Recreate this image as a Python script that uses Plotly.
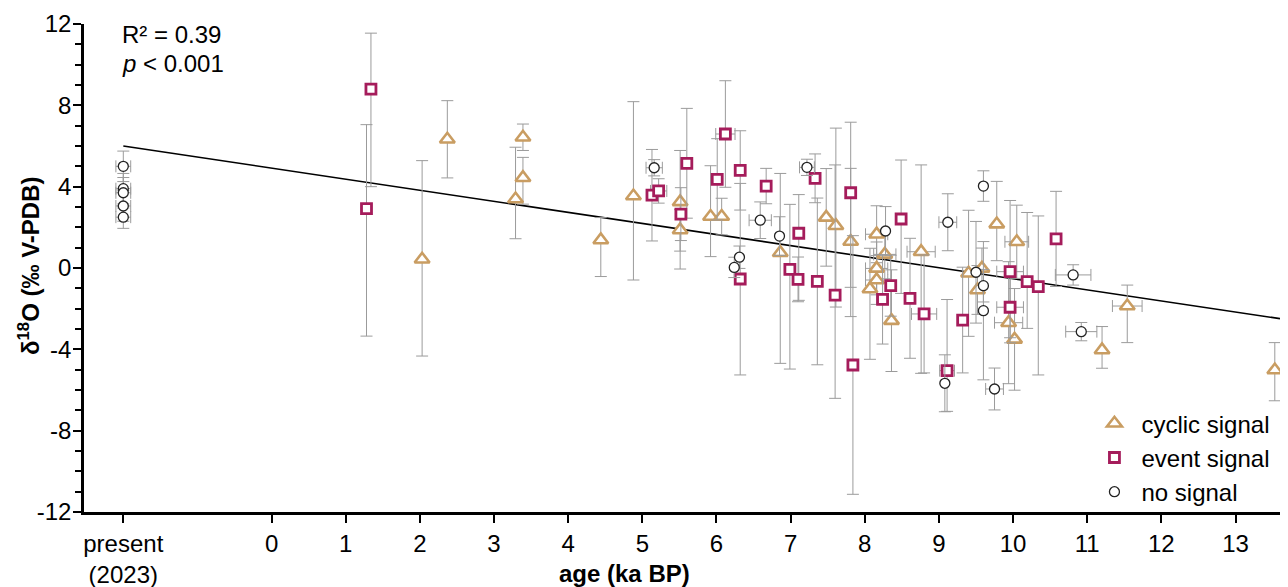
import plotly.graph_objects as go

# ---------------- data ----------------
PRESENT_X = -2  # axis position of the "present (2023)" samples

# cyclic signal (triangles)
cyc_age = [2.03, 2.37, 3.29, 3.39, 3.39, 4.44, 4.88, 5.51, 5.51, 5.92, 6.07, 6.86, 7.48, 7.61, 7.81,
           8.16, 8.27, 8.16, 8.16, 8.07, 8.36, 8.76, 9.40, 9.58, 9.52, 9.78, 10.05, 9.94, 10.02,
           11.20, 11.54, 13.53]
cyc_d18o = [0.43, 6.33, 3.39, 6.43, 4.44, 1.38, 3.54, 3.25, 1.87, 2.53, 2.53, 0.75, 2.49, 2.08, 1.30,
            1.66, 0.67, -0.02, -0.59, -1.03, -2.59, 0.80, -0.26, -0.02, -1.08, 2.16, 1.29, -2.69, -3.51,
            -4.03, -1.87, -5.02]
cyc_err_p = [4.85, 1.9, 2.55, 0.65, 1.0, 1.1, 4.64, 2.53, 1.0, 2.5, 0.9, 3.9, 2.4, 4.8, 3.6,
             1.4, 1.2, 1.3, 1.2, 2.0, 2.5, 4.27, 3.1, 1.0, 1.2, 2.1, 1.8, 3.0, 2.5,
             1.15, 1.03, 1.35]
cyc_err_m = [4.76, 1.9, 1.95, 0.65, 1.3, 1.8, 4.13, 2.42, 1.92, 1.97, 0.9, 5.44, 2.4, 4.0, 3.69,
             1.4, 1.2, 1.3, 1.2, 3.46, 2.5, 5.98, 3.1, 1.0, 1.2, 1.8, 1.8, 3.0, 2.5,
             0.9, 1.8, 1.51]
cyc_age_err = [0, 0, 0, 0, 0, 0, 0, 0, 0, 0, 0, 0, 0, 0, 0,
               0.15, 0.15, 0.15, 0.15, 0, 0, 0.19, 0, 0, 0, 0, 0.16, 0.19, 0,
               0, 0.2, 0]

# event signal (squares)
evt_age = [1.28, 1.34, 5.13, 5.22, 5.52, 5.60, 6.01, 6.12, 6.32, 6.32, 6.67, 6.99, 7.10, 7.11, 7.33,
           7.36, 7.60, 7.81, 7.84, 8.24, 8.35, 8.49, 8.61, 8.80, 9.11, 9.32, 9.96, 9.96, 10.19,
           10.34, 10.58]
evt_d18o = [2.92, 8.80, 3.58, 3.79, 2.65, 5.15, 4.36, 6.59, 4.80, -0.54, 4.03, -0.07, -0.56, 1.71, 4.41,
            -0.66, -1.33, 3.70, -4.77, -1.54, -0.87, 2.41, -1.49, -2.26, -5.05, -2.56, -0.18, -1.93, -0.67,
            -0.92, 1.43]
evt_err_p = [4.13, 2.75, 2.25, 0.6, 1.3, 2.7, 2.0, 2.62, 1.95, 4.7, 0.87, 3.2, 1.1, 1.9, 1.2,
             4.1, 6.4, 3.47, 6.36, 2.2, 1.5, 2.9, 2.95, 2.9, 3.5, 2.6, 3.5, 1.5, 3.4,
             3.48, 2.34]
evt_err_m = [6.27, 4.8, 2.25, 0.6, 1.3, 2.7, 2.0, 2.62, 1.95, 4.72, 0.87, 4.9, 1.1, 3.3, 1.2,
             4.1, 5.08, 4.65, 6.36, 2.2, 1.5, 3.66, 2.95, 2.9, 2.0, 2.6, 3.5, 1.5, 2.3,
             4.34, 2.34]
evt_age_err = [0, 0, 0, 0.11, 0, 0, 0, 0.13, 0, 0, 0, 0, 0, 0, 0,
               0, 0, 0, 0, 0, 0, 0, 0, 0.17, 0.1, 0, 0.18, 0.18, 0,
               0, 0]

# no signal (circles)
non_age = [PRESENT_X, PRESENT_X, PRESENT_X, PRESENT_X, PRESENT_X, 5.16, 6.24, 6.31, 6.59, 6.85, 7.22,
           8.28, 9.08, 9.12, 9.50, 9.60, 9.60, 9.60, 9.75, 10.81, 10.92]
non_d18o = [5.00, 3.90, 3.70, 3.05, 2.50, 4.93, 0.03, 0.53, 2.35, 1.57, 4.95,
            1.82, -5.67, 2.25, -0.21, 4.03, -0.87, -2.10, -5.95, -0.34, -3.13]
non_err = [0.75, 0.75, 0.75, 0.75, 0.55, 0.4, 0.5, 0.55, 0.9, 0.95, 0.4,
           1.2, 1.4, 1.4, 2.5, 0.75, 0.8, 3.4, 1.03, 0.5, 0.45]
non_age_err = [0.1, 0.1, 0.1, 0.1, 0.1, 0.11, 0, 0, 0.15, 0, 0.1,
               0, 0, 0.12, 0, 0, 0, 0, 0.12, 0.24, 0.21]

# regression line (R² = 0.39)
fit_x = [PRESENT_X, 13.6]
fit_y = [6.0, -2.49]

x_tickvals = [PRESENT_X, 0, 1, 2, 3, 4, 5, 6, 7, 8, 9, 10, 11, 12, 13]
x_ticktext = ["present<br>(2023)", "0", "1", "2", "3", "4", "5", "6", "7", "8", "9", "10", "11", "12", "13"]
y_tickvals = [-12, -8, -4, 0, 4, 8, 12]
y_ticktext = ["-12", "-8", "-4", "0", "4", "8", "12"]

# ---------------- styling ----------------
FONT = "Liberation Sans, Arial, sans-serif"
C_CYC = "#C99D62"
C_EVT = "#A51C5B"
C_NON = "#222222"
C_ERR = "#9B9B9B"

fig = go.Figure()

fig.add_trace(go.Scatter(x=fit_x, y=fit_y, mode="lines", line=dict(color="black", width=1.6),
                         showlegend=False, hoverinfo="skip"))


def add_group(ages, vals, ep, em, aerr, name, symbol, color, size, lw):
    # horizontal (age) error bars only where present
    hx = [a for a, e in zip(ages, aerr) if e > 0]
    hy = [v for v, e in zip(vals, aerr) if e > 0]
    he = [e for e in aerr if e > 0]
    if hx:
        fig.add_trace(go.Scatter(x=hx, y=hy, mode="markers",
                                 marker=dict(size=1, color="rgba(0,0,0,0)"),
                                 error_x=dict(type="data", array=he, color=C_ERR, thickness=1, width=6),
                                 showlegend=False, hoverinfo="skip", cliponaxis=False))
    fig.add_trace(go.Scatter(
        x=ages, y=vals, mode="markers", name=name,
        marker=dict(symbol=symbol, size=size, color="white", line=dict(color=color, width=lw)),
        error_y=dict(type="data", symmetric=False, array=ep, arrayminus=em,
                     color=C_ERR, thickness=1, width=6),
        cliponaxis=False))


add_group(cyc_age, cyc_d18o, cyc_err_p, cyc_err_m, cyc_age_err, "cyclic signal", "triangle-up", C_CYC, 13, 2.6)
add_group(evt_age, evt_d18o, evt_err_p, evt_err_m, evt_age_err, "event signal", "square", C_EVT, 10, 2.8)
add_group(non_age, non_d18o, non_err, non_err, non_age_err, "no signal", "circle", C_NON, 10, 1.3)

# the page body adds an 8 px offset, so the figure is 8 px smaller and margins shifted
fig.update_layout(
    width=1280, height=579,
    margin=dict(l=76, r=8, t=16, b=75, autoexpand=False),
    paper_bgcolor="white", plot_bgcolor="white",
    font=dict(family=FONT, size=24, color="black"),
    showlegend=True,
    legend=dict(x=0.839, y=0.227, xanchor="left", yanchor="top",
                bgcolor="rgba(0,0,0,0)", font=dict(size=24, family=FONT),
                itemwidth=44, tracegroupgap=0),
    xaxis=dict(range=[-2.53, 13.6], tickvals=x_tickvals, ticktext=x_ticktext, automargin=False,
               showgrid=False, zeroline=False, showline=True, linecolor="black", linewidth=2.6,
               ticks="outside", ticklen=8, tickwidth=2.2, tickcolor="black",
               tickfont=dict(size=24, family=FONT)),
    yaxis=dict(range=[-12, 12], tickvals=y_tickvals, ticktext=y_ticktext, automargin=False,
               showgrid=False, zeroline=False, showline=True, linecolor="black", linewidth=2.6,
               ticks="outside", ticklen=8, tickwidth=2.2, tickcolor="black",
               ticklabelstandoff=-3,
               minor=dict(dtick=1, ticks="outside", ticklen=6, tickwidth=1.8, tickcolor="black"),
               tickfont=dict(size=24, family=FONT)),
    annotations=[
        dict(text="R² = 0.39", xref="paper", yref="paper", x=0.030, y=0.9795,
             xanchor="left", yanchor="middle", showarrow=False, font=dict(size=24, family=FONT)),
        dict(text="<i>p</i> < 0.001", xref="paper", yref="paper", x=0.030, y=0.920,
             xanchor="left", yanchor="middle", showarrow=False, font=dict(size=24, family=FONT)),
        dict(text="<b>age (ka BP)</b>", xref="paper", yref="paper", x=0.452, y=-0.125,
             xanchor="center", yanchor="middle", showarrow=False, font=dict(size=24, family=FONT)),
        dict(text="<b>δ<sup>18</sup>O (‰ V-PDB)</b>", xref="paper", yref="paper", x=-0.046, y=0.506,
             xanchor="center", yanchor="middle", textangle=-90, showarrow=False,
             font=dict(size=24, family=FONT)),
    ],
)

fig.write_html("out.html")
